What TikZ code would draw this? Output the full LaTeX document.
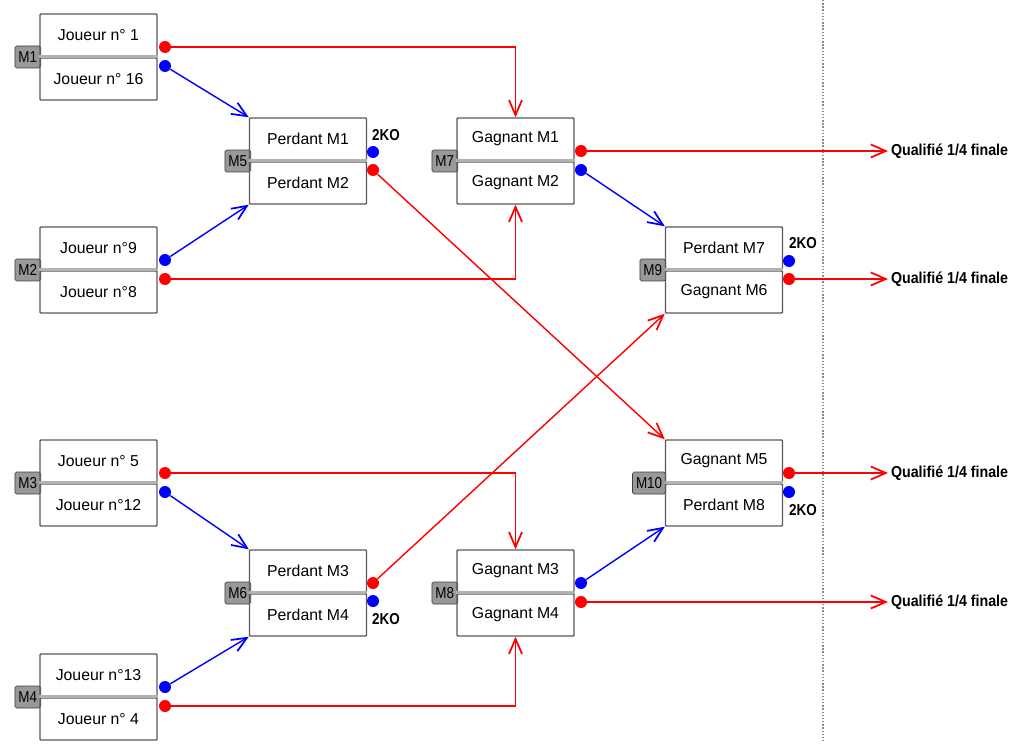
\documentclass[tikz,border=0pt]{standalone}
\usepackage{fontspec}
\setmainfont{Liberation Sans}
\newfontfamily\narrowfont{Liberation Sans}[FakeStretch=0.85]
\newfontfamily\qualfont{Liberation Sans}[FakeStretch=0.9]
\usetikzlibrary{arrows.meta}

\begin{document}
\begin{tikzpicture}[x=0.02cm,y=-0.02cm,
	half/.style={draw=black!65, line width=0.8pt, rounded corners=0.5pt, minimum width=2.34cm, minimum height=0.84cm, inner sep=0pt, font=\fontsize{9}{10}\selectfont},
	tab/.style={draw=black!75, fill=black!40, rounded corners=1pt, inner xsep=2pt, inner ysep=0pt, minimum height=0.44cm, anchor=east, font=\narrowfont\fontsize{9}{10}\selectfont},
	sepline/.style={draw=black!30, line width=0.07cm},
	rdot/.style={circle, fill=red, minimum size=0.24cm, inner sep=0pt},
	bdot/.style={circle, fill=blue, minimum size=0.24cm, inner sep=0pt},
	win/.style={draw=red, line width=0.8pt, -{Straight Barb[length=0.3cm,width=0.26cm,line width=1pt]}},
	lose/.style={draw=blue, line width=0.8pt, -{Straight Barb[length=0.3cm,width=0.26cm,line width=1pt]}},
	ko/.style={inner sep=0pt, font=\narrowfont\bfseries\fontsize{9}{10}\selectfont},
	qual/.style={anchor=west, inner xsep=1.5pt, font=\qualfont\bfseries\fontsize{9}{10}\selectfont}]

	\useasboundingbox (0,0) rectangle (1013,743);

	%% separation line
	\coordinate (divtop) at (823,0);
	\coordinate (divbot) at (823,743);
	\draw[black!45, densely dotted, line width=0.8pt] (divtop) -- (divbot);

	%% First round
	\node[tab] at (41,57)(t1){M1};
	\node[half] at (98.5,35)(m1a){Joueur n° 1};
	\node[half] at (98.5,79)(m1b){Joueur n° 16};
	\draw[sepline] (m1a.south west) -- (m1a.south east);

	\node[tab] at (41,270)(t2){M2};
	\node[half] at (98.5,248)(m2a){Joueur n°9};
	\node[half] at (98.5,292)(m2b){Joueur n°8};
	\draw[sepline] (m2a.south west) -- (m2a.south east);

	\node[tab] at (41,483)(t3){M3};
	\node[half] at (98.5,461)(m3a){Joueur n° 5};
	\node[half] at (98.5,505)(m3b){Joueur n°12};
	\draw[sepline] (m3a.south west) -- (m3a.south east);

	\node[tab] at (41,697)(t4){M4};
	\node[half] at (98.5,675)(m4a){Joueur n°13};
	\node[half] at (98.5,719)(m4b){Joueur n° 4};
	\draw[sepline] (m4a.south west) -- (m4a.south east);

	\node[rdot] at (165,47)(r1){};
	\node[bdot] at (165,66)(b1){};
	\node[bdot] at (165,260)(b2){};
	\node[rdot] at (165,279)(r2){};
	\node[rdot] at (165,473)(r3){};
	\node[bdot] at (165,492)(b3){};
	\node[bdot] at (165,687)(b4){};
	\node[rdot] at (165,706)(r4){};

	%% Second round
	\node[tab] at (251,161)(t5){M5};
	\node[half] at (308,139)(m5a){Perdant M1};
	\node[half] at (308,183)(m5b){Perdant M2};
	\draw[sepline] (m5a.south west) -- (m5a.south east);

	\node[tab] at (251,593)(t6){M6};
	\node[half] at (308,571)(m6a){Perdant M3};
	\node[half] at (308,615)(m6b){Perdant M4};
	\draw[sepline] (m6a.south west) -- (m6a.south east);

	\node[tab] at (458,161)(t7){M7};
	\node[half] at (515.5,139)(m7a){Gagnant M1};
	\node[half] at (515.5,183)(m7b){Gagnant M2};
	\draw[sepline] (m7a.south west) -- (m7a.south east);

	\node[tab] at (458,593)(t8){M8};
	\node[half] at (515.5,571)(m8a){Gagnant M3};
	\node[half] at (515.5,615)(m8b){Gagnant M4};
	\draw[sepline] (m8a.south west) -- (m8a.south east);

	\node[bdot] at (373,152)(b5){};
	\node[rdot] at (373,170)(r5){};
	\node[rdot] at (373,583)(r6){};
	\node[bdot] at (373,601)(b6){};
	\node[rdot] at (581,151)(r7){};
	\node[bdot] at (581,170)(b7){};
	\node[bdot] at (581,583)(b8){};
	\node[rdot] at (581,602)(r8){};

	\node[ko] at (386,135)(ko5){2KO};
	\node[ko] at (386,619)(ko6){2KO};

	%% Third round
	\node[tab] at (666,270)(t9){M9};
	\node[half] at (724,248)(m9a){Perdant M7};
	\node[half] at (724,292)(m9b){Gagnant M6};
	\draw[sepline] (m9a.south west) -- (m9a.south east);

	\node[tab] at (666,483)(t10){M10};
	\node[half] at (724,461)(m10a){Gagnant M5};
	\node[half] at (724,505)(m10b){Perdant M8};
	\draw[sepline] (m10a.south west) -- (m10a.south east);

	\node[bdot] at (789,261)(b9){};
	\node[rdot] at (789,279)(r9){};
	\node[rdot] at (789,473)(r10){};
	\node[bdot] at (789,492)(b10){};

	\node[ko] at (803,243)(ko9){2KO};
	\node[ko] at (803,510)(ko10){2KO};

	%% Qualified
	\node[qual] at (888,151)(q1){Qualifié 1/4 finale};
	\node[qual] at (888,279)(q2){Qualifié 1/4 finale};
	\node[qual] at (888,473)(q3){Qualifié 1/4 finale};
	\node[qual] at (888,602)(q4){Qualifié 1/4 finale};

	%% winners
	\draw[win] (r1) -| (m7a.north);
	\draw[win] (r2) -| (m7b.south);
	\draw[win] (r3) -| (m8a.north);
	\draw[win] (r4) -| (m8b.south);
	\path[win] (r5) edge (m10a.north west)
		(r6) edge (m9b.south west)
		(r7) edge (q1)(r8) edge (q4)
		(r9) edge (q2)(r10) edge (q3);

	%% losers
	\path[lose] (b1) edge (m5a.north west)
		(b2) edge (m5b.south west)
		(b3) edge (m6a.north west)
		(b4) edge (m6b.south west)
		(b7) edge (m9a.north west)
		(b8) edge (m10b.south west);
\end{tikzpicture}
\end{document}
